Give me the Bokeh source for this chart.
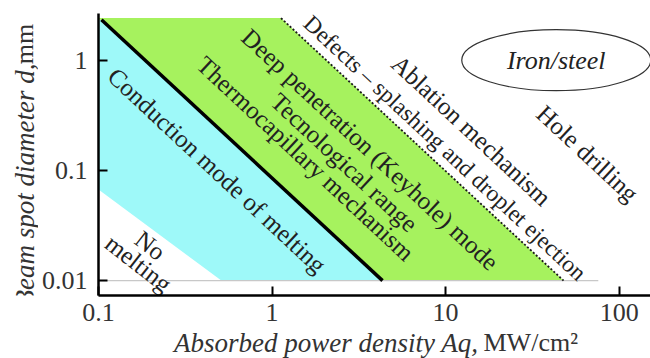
import math
from bokeh.plotting import figure
from bokeh.layouts import column, row
from bokeh.models import Range1d, FixedTicker, CustomJSTickFormatter, ColumnDataSource
from bokeh.core.properties import value
from bokeh.embed import file_html
from bokeh.resources import INLINE

# ---- axis ticks ----
x_ticks = [0.1, 1, 10, 100]          # absorbed power density Aq, MW/cm^2
y_ticks = [0.01, 0.1, 1]             # beam spot diameter d, mm

# ---- process-window boundaries (q in MW/cm^2, d in mm) ----
d_floor = 0.01
d_ceiling = 2.41
no_melt_q = [0.1, 0.51]              # below this: no melting
no_melt_d = [0.0672, 0.01]
keyhole_q = [0.104, 4.33]            # conduction -> deep penetration threshold
keyhole_d = [2.33, 0.01]
defects_q = [1.126, 47.8]            # deep penetration -> defects / ablation
defects_d = [2.41, 0.01]
floor_end_q = 75.8                   # extent of the reference line at d = 0.01

# ---- region labels ----
label_text = [
    "Conduction mode of melting",
    "No", "melting",
    "Thermocapillary mechanism",
    "Tecnological range",
    "Deep penetration (Keyhole) mode",
    "Ablation mechanism",
    "Hole drilling",
]
label_q = [0.482, 0.199, 0.170, 1.56, 2.61, 3.68, 14.1, 65.8]
label_d = [0.0998, 0.0208, 0.0143, 0.128, 0.118, 0.155, 0.230, 0.142]
label_angle = [-43, -38, -38, -43, -43, -43, -43, -43]

defects_text = "Defects \u2013 splashing and droplet ejection"
defects_label_q, defects_label_d = 9.95, 0.160

material = "Iron/steel"
material_q, material_d = 43.4, 1.0

x_title = "Absorbed power density Aq,"
x_unit = "MW/cm\u00b2"
y_title = "Beam spot diameter d,"
y_unit = "mm"

# ---- page geometry ----
W, H = 650, 358
STRIP_W = 38                       # left strip holding the y title
MAIN_H = 332                       # main plot height; x title strip below
FRAME_LEFT, FRAME_TOP, FRAME_BOTTOM = 95, 13, 295
PX_DEC_X, PX_DEC_Y = 174.5, 110.2
frame_w = W - FRAME_LEFT
frame_h = FRAME_BOTTOM - FRAME_TOP
x0 = 0.1
x1 = 10 ** (math.log10(x0) + frame_w / PX_DEC_X)
y1 = 10 ** 0.4238
y0 = 10 ** (math.log10(y1) - frame_h / PX_DEC_Y)

SERIF = "Liberation Serif"
TITLE_COLOR = "#333333"

p = figure(width=W - STRIP_W, height=MAIN_H, x_axis_type="log", y_axis_type="log",
           x_range=Range1d(x0, x1), y_range=Range1d(y0, y1), title=None,
           output_backend="svg", toolbar_location=None,
           min_border_left=FRAME_LEFT - STRIP_W, min_border_right=0,
           min_border_top=FRAME_TOP, min_border_bottom=MAIN_H - FRAME_BOTTOM)
p.outline_line_color = None
p.xgrid.visible = False
p.ygrid.visible = False

fmt = CustomJSTickFormatter(code="return tick.toString();")
for ax, ticks in ((p.xaxis[0], x_ticks), (p.yaxis[0], y_ticks)):
    ax.ticker = FixedTicker(ticks=ticks, minor_ticks=[])
    ax.formatter = fmt
    ax.axis_line_width = 2.5
    ax.axis_line_color = "black"
    ax.major_tick_in = 9
    ax.major_tick_out = 0
    ax.major_tick_line_width = 2
    ax.major_tick_line_color = "black"
    ax.minor_tick_line_color = None
    ax.major_label_text_font = SERIF
    ax.major_label_text_font_size = "26px"
    ax.major_label_text_color = TITLE_COLOR
p.xaxis[0].major_label_standoff = 8
p.yaxis[0].major_label_standoff = 11

# ---- regions ----
cyan_q = [no_melt_q[0], no_melt_q[0], keyhole_q[0], keyhole_q[1], no_melt_q[1]]
cyan_d = [no_melt_d[0], keyhole_d[0], keyhole_d[0], keyhole_d[1], no_melt_d[1]]
green_q = [x0, defects_q[0], defects_q[1], keyhole_q[1], keyhole_q[0], x0]
green_d = [d_ceiling, defects_d[0], defects_d[1], keyhole_d[1], keyhole_d[0], keyhole_d[0]]
p.patches(xs=[cyan_q, green_q], ys=[cyan_d, green_d],
          fill_color=["#9ef9f9", "#a6f25e"], line_color=None)

p.line([x0, floor_end_q], [d_floor, d_floor], line_color="#c8c8c8", line_width=1.2)
p.line(defects_q, defects_d, line_color="#1a1a1a", line_width=1.8, line_dash="2 2")
p.line(keyhole_q, keyhole_d, line_color="black", line_width=3.5)

src = ColumnDataSource(dict(q=label_q, d=label_d, text=label_text, angle=label_angle))
p.text(x="q", y="d", text="text", angle="angle", angle_units="deg", source=src,
       text_font=value(SERIF), text_font_size="25px", text_align="center",
       text_baseline="middle", text_color="#222222")
p.text(x=[defects_label_q], y=[defects_label_d], text=[defects_text],
       angle=-43, angle_units="deg", text_font=value(SERIF), text_font_size="23.5px",
       text_align="center", text_baseline="middle", text_color="#222222")

p.ellipse(x=[material_q], y=[material_d], width=189, height=61,
          width_units="screen", height_units="screen",
          fill_color=None, line_color="#333333", line_width=1.2)
p.text(x=[material_q], y=[material_d], text=[material],
       text_font=value(SERIF), text_font_style="italic", text_font_size="26px",
       text_align="center", text_baseline="middle", text_color="#222222")


def text_strip(width, height):
    """A bare figure whose data coordinates are its own pixels (y up)."""
    f = figure(width=width, height=height, x_range=Range1d(0, width),
               y_range=Range1d(0, height), title=None, output_backend="svg",
               toolbar_location=None, x_axis_location=None, y_axis_location=None,
               min_border=0)
    f.outline_line_color = None
    f.xgrid.visible = False
    f.ygrid.visible = False
    return f


# y title: italic quantity + upright unit, reading bottom to top
ys = text_strip(STRIP_W, MAIN_H)
ys.text(x=[24], y=[MAIN_H - 59], text=[y_title], angle=90, angle_units="deg",
        text_font=value(SERIF), text_font_style="italic", text_font_size="27px",
        text_align="right", text_baseline="middle", text_color=TITLE_COLOR)
ys.text(x=[24], y=[MAIN_H - 12], text=[y_unit], angle=90, angle_units="deg",
        text_font=value(SERIF), text_font_size="26px",
        text_align="right", text_baseline="middle", text_color=TITLE_COLOR)

# x title strip
XS_H = H - MAIN_H
xs = text_strip(W, XS_H)
xs.text(x=[478], y=[XS_H - (342 - MAIN_H)], text=[x_title],
        text_font=value(SERIF), text_font_style="italic", text_font_size="27px",
        text_align="right", text_baseline="middle", text_color=TITLE_COLOR)
xs.text(x=[483], y=[XS_H - (342 - MAIN_H)], text=[x_unit],
        text_font=value(SERIF), text_font_size="26px",
        text_align="left", text_baseline="middle", text_color=TITLE_COLOR)

page = column(row(ys, p, spacing=0), xs, spacing=0)
open("out.html", "w").write(file_html(page, INLINE))
